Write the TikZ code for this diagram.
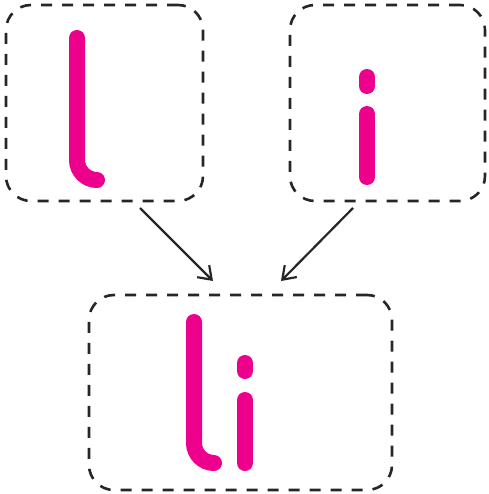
\documentclass[tikz,border=0pt]{standalone}
\usepackage{tikz}
\usetikzlibrary{arrows.meta, positioning, calc}
\definecolor{glyphpink}{HTML}{EC008C}

\begin{document}
\begin{tikzpicture}[x=1pt, y=-1pt, >={Straight Barb[length=12pt, width=17pt]}]
  \useasboundingbox (0,0) rectangle (488,494);
  \tikzset{
    glyphbox/.style={draw, line width=2.6pt, dash pattern=on 11pt off 10pt,
      rounded corners=25pt, color=black!85},
    stroke/.style={glyphpink, line width=16pt, line cap=round}
  }

  % Dashed boxes
  \node[glyphbox, minimum width=197pt, minimum height=196pt] (boxL) at (104.5,103) {};
  \node[glyphbox, minimum width=195pt, minimum height=196pt] (boxI) at (387.5,103) {};
  \node[glyphbox, minimum width=303pt, minimum height=195pt] (boxLi) at (240.5,392.5) {};

  % Letter l
  \draw[stroke] (77,38) -- (77,160) .. controls (77,171) and (86,180) .. (97,180);
  % Letter i
  \draw[stroke] (367,77) -- (367,86);
  \draw[stroke] (367,114) -- (367,177);

  % Combined li
  \draw[stroke] (194,322) -- (194,443) .. controls (194,454) and (203,463) .. (214,463);
  \draw[stroke] (245,363) -- (245,371);
  \draw[stroke] (245,400) -- (245,463);

  % Arrows
  \coordinate (fromL) at (140,208);
  \coordinate (toL) at (213,281);
  \coordinate (fromI) at (353,208);
  \coordinate (toI) at (281,281);
  \draw[->, line width=2.2pt, black!85] (fromL) -- (toL);
  \draw[->, line width=2.2pt, black!85] (fromI) -- (toI);
\end{tikzpicture}
\end{document}
